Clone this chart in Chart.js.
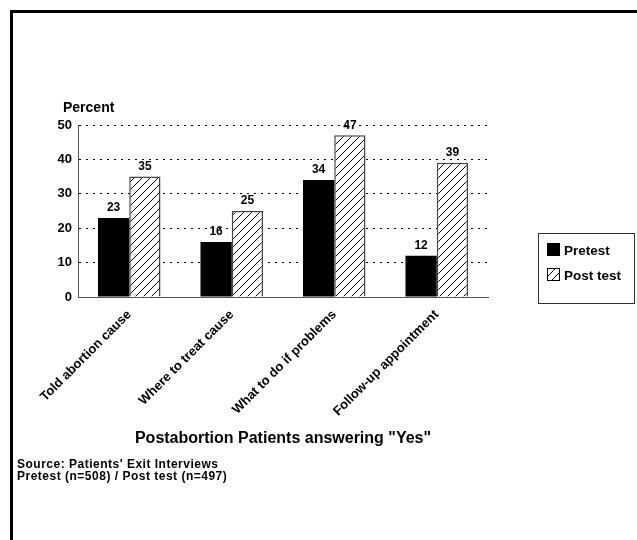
<!DOCTYPE html>
<html>
<head>
<meta charset="utf-8">
<script src="https://cdn.jsdelivr.net/npm/chart.js@4"></script>
<style>
  html, body { margin: 0; padding: 0; background: #fff; }
  #c { display: block; }
</style>
</head>
<body>
<canvas id="c" width="637" height="540"></canvas>
<script>
const categories = ["Told abortion cause", "Where to treat cause", "What to do if problems", "Follow-up appointment"];
const pretest = [23, 16, 34, 12];
const posttest = [35, 25, 47, 39];
const yTicks = [0, 10, 20, 30, 40, 50];

const FONT = '"Liberation Sans", Arial, sans-serif';

// diagonal hatch for the post test bars
function hatch() {
  const p = document.createElement('canvas');
  p.width = 8; p.height = 8;
  const g = p.getContext('2d');
  g.fillStyle = '#fff';
  g.fillRect(0, 0, 8, 8);
  g.strokeStyle = '#000';
  g.lineWidth = 1;
  g.beginPath();
  g.moveTo(0, 8); g.lineTo(8, 0);
  g.moveTo(-1, 1); g.lineTo(1, -1);
  g.moveTo(7, 9); g.lineTo(9, 7);
  g.stroke();
  return document.getElementById('c').getContext('2d').createPattern(p, 'repeat');
}
const hatchFill = hatch();

const extras = {
  id: 'extras',
  afterDatasetsDraw(chart) {
    const ctx = chart.ctx;
    ctx.save();
    ctx.fillStyle = '#000';
    ctx.textAlign = 'center';
    ctx.textBaseline = 'bottom';
    ctx.font = 'bold 12px ' + FONT;
    chart.data.datasets.forEach((ds, i) => {
      chart.getDatasetMeta(i).data.forEach((bar, j) => {
        ctx.fillText(ds.data[j], bar.x, bar.y - 4);
      });
    });
    ctx.restore();
  },
  afterDraw(chart) {
    const ctx = chart.ctx;
    const area = chart.chartArea;
    ctx.save();
    // frame
    ctx.fillStyle = '#000';
    ctx.fillRect(10, 10, 627, 3);
    ctx.fillRect(10, 10, 3, 530);

    // axis titles
    ctx.font = 'bold 14px ' + FONT;
    ctx.textAlign = 'left';
    ctx.textBaseline = 'alphabetic';
    ctx.fillText('Percent', 63, 112);

    ctx.font = 'bold 16px ' + FONT;
    ctx.textAlign = 'center';
    ctx.fillText('Postabortion Patients answering "Yes"', (area.left + area.right) / 2, 443);

    // source notes
    ctx.font = 'bold 12px ' + FONT;
    ctx.letterSpacing = '0.5px';
    ctx.textAlign = 'left';
    ctx.fillText("Source: Patients' Exit Interviews", 17, 468);
    ctx.fillText('Pretest (n=508) / Post test (n=497)', 17, 480);
    ctx.letterSpacing = '0px';

    // legend
    ctx.strokeStyle = '#333';
    ctx.lineWidth = 1;
    ctx.strokeRect(538.5, 233.5, 96, 70);
    ctx.fillStyle = '#000';
    ctx.fillRect(547, 243, 13, 13);
    ctx.fillStyle = hatchFill;
    ctx.fillRect(547, 268, 13, 13);
    ctx.strokeStyle = '#000';
    ctx.strokeRect(547.5, 268.5, 12, 12);
    ctx.fillStyle = '#000';
    ctx.font = 'bold 13.5px ' + FONT;
    ctx.textBaseline = 'middle';
    ctx.fillText('Pretest', 564, 251);
    ctx.fillText('Post test', 564, 276);
    ctx.restore();
  }
};

new Chart(document.getElementById('c'), {
  type: 'bar',
  data: {
    labels: categories,
    datasets: [{
      label: 'Pretest',
      data: pretest,
      backgroundColor: '#000',
      borderWidth: 0
    }, {
      label: 'Post test',
      data: posttest,
      backgroundColor: hatchFill,
      borderColor: '#444',
      borderWidth: 1.5
    }]
  },
  options: {
    responsive: false,
    animation: false,
    events: [],
    layout: { padding: { left: 20, top: 125, right: 149, bottom: 103 } },
    datasets: { bar: { categoryPercentage: 0.61, barPercentage: 1 } },
    plugins: { legend: { display: false }, tooltip: { enabled: false } },
    scales: {
      x: {
        afterFit: s => { s.height = 140; },
        grid: { display: false },
        border: { color: '#555', width: 1 },
        ticks: {
          color: '#000',
          font: { family: FONT, size: 13, weight: 'bold' },
          minRotation: 45, maxRotation: 45,
          padding: 2
        }
      },
      y: {
        min: 0, max: 50,
        afterFit: s => { s.width = 58; },
        afterBuildTicks: s => { s.ticks = yTicks.map(v => ({ value: v })); },
        border: { color: '#555', width: 1, dash: [2, 5] },
        grid: { color: '#000', lineWidth: 1, drawTicks: false },
        ticks: {
          color: '#000',
          padding: 6,
          font: { family: FONT, size: 13, weight: 'bold' }
        }
      }
    }
  },
  plugins: [extras]
});
</script>
</body>
</html>
